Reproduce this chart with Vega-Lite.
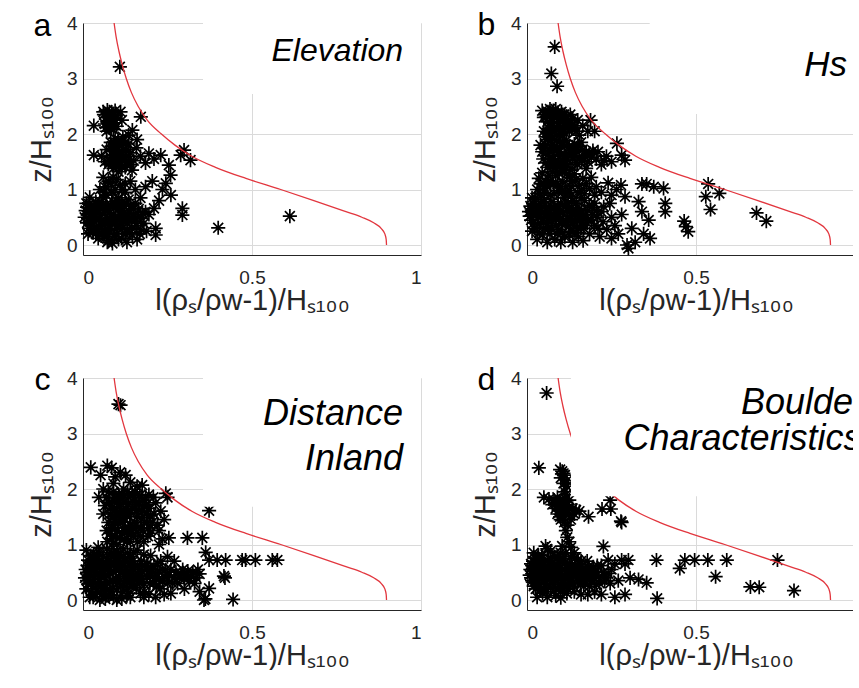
{
  "$schema": "https://vega.github.io/schema/vega-lite/v6.json",
  "background": "white",
  "padding": {"left": 27, "top": 9, "right": 0, "bottom": 0},
  "config": {
    "view": {"stroke": null},
    "font": "Liberation Sans",
    "axis": {
      "domainColor": "#262626", "domainWidth": 1,
      "gridColor": "#dadada", "gridWidth": 1,
      "ticks": false,
      "labelColor": "#262626", "labelFont": "Liberation Sans", "labelFontSize": 19,
      "titleColor": "#262626", "titleFont": "Liberation Sans", "titleFontSize": 29, "titleFontWeight": "normal"
    },
    "axisX": {"labelPadding": 13, "titlePadding": -1},
    "axisY": {"labelPadding": 6, "titlePadding": 10}
  },
  "datasets": {
    "pts": [
      {"p":"a","x":0.109,"y":3.21},{"p":"a","x":0.400,"y":0.31},{"p":"a","x":0.612,"y":0.52},
      {"p":"a","x":0.060,"y":2.40},{"p":"a","x":0.072,"y":2.43},{"p":"a","x":0.085,"y":2.38},{"p":"a","x":0.097,"y":2.33},{"p":"a","x":0.111,"y":2.40},{"p":"a","x":0.068,"y":2.30},{"p":"a","x":0.080,"y":2.25},{"p":"a","x":0.092,"y":2.20},{"p":"a","x":0.065,"y":2.18},{"p":"a","x":0.078,"y":2.12},{"p":"a","x":0.090,"y":2.08},{"p":"a","x":0.100,"y":2.14},{"p":"a","x":0.070,"y":2.05},{"p":"a","x":0.032,"y":2.15},{"p":"a","x":0.171,"y":2.31},{"p":"a","x":0.146,"y":2.07},{"p":"a","x":0.135,"y":1.98},{"p":"a","x":0.115,"y":2.25},
      {"p":"a","x":0.075,"y":2.35},{"p":"a","x":0.088,"y":2.28},{"p":"a","x":0.082,"y":2.18},{"p":"a","x":0.095,"y":2.42},{"p":"a","x":0.068,"y":2.12},{"p":"a","x":0.062,"y":2.35},
      {"p":"a","x":0.078,"y":2.40},{"p":"a","x":0.086,"y":2.32},{"p":"a","x":0.072,"y":2.22},{"p":"a","x":0.094,"y":2.26},{"p":"a","x":0.084,"y":2.10},
      {"p":"a","x":0.032,"y":1.62},{"p":"a","x":0.055,"y":1.60},{"p":"a","x":0.070,"y":1.72},{"p":"a","x":0.082,"y":1.85},{"p":"a","x":0.095,"y":1.92},{"p":"a","x":0.108,"y":1.80},{"p":"a","x":0.120,"y":1.70},{"p":"a","x":0.088,"y":1.62},{"p":"a","x":0.100,"y":1.55},{"p":"a","x":0.112,"y":1.48},{"p":"a","x":0.125,"y":1.58},{"p":"a","x":0.135,"y":1.82},{"p":"a","x":0.140,"y":1.66},{"p":"a","x":0.150,"y":1.52},{"p":"a","x":0.158,"y":1.75},{"p":"a","x":0.170,"y":1.60},{"p":"a","x":0.185,"y":1.48},{"p":"a","x":0.195,"y":1.65},{"p":"a","x":0.230,"y":1.62},{"p":"a","x":0.210,"y":1.55},{"p":"a","x":0.075,"y":1.45},{"p":"a","x":0.090,"y":1.38},{"p":"a","x":0.105,"y":1.32},{"p":"a","x":0.125,"y":1.40},{"p":"a","x":0.145,"y":1.35},{"p":"a","x":0.160,"y":1.90},{"p":"a","x":0.118,"y":1.95},
      {"p":"a","x":0.080,"y":1.50},{"p":"a","x":0.095,"y":1.70},{"p":"a","x":0.105,"y":1.62},{"p":"a","x":0.115,"y":1.85},{"p":"a","x":0.128,"y":1.72},{"p":"a","x":0.100,"y":1.42},{"p":"a","x":0.085,"y":1.78},{"p":"a","x":0.130,"y":1.50},{"p":"a","x":0.110,"y":1.55},{"p":"a","x":0.092,"y":1.85},{"p":"a","x":0.140,"y":1.45},{"p":"a","x":0.065,"y":1.50},
      {"p":"a","x":0.088,"y":1.70},{"p":"a","x":0.098,"y":1.78},{"p":"a","x":0.108,"y":1.68},{"p":"a","x":0.118,"y":1.60},{"p":"a","x":0.095,"y":1.48},{"p":"a","x":0.105,"y":1.88},{"p":"a","x":0.125,"y":1.85},{"p":"a","x":0.115,"y":1.40},{"p":"a","x":0.135,"y":1.60},{"p":"a","x":0.082,"y":1.58},
      {"p":"a","x":0.289,"y":1.62},{"p":"a","x":0.299,"y":1.71},{"p":"a","x":0.318,"y":1.53},{"p":"a","x":0.254,"y":1.44},{"p":"a","x":0.259,"y":1.26},{"p":"a","x":0.245,"y":1.11},{"p":"a","x":0.235,"y":1.00},{"p":"a","x":0.260,"y":0.90},{"p":"a","x":0.294,"y":0.66},{"p":"a","x":0.294,"y":0.54},{"p":"a","x":0.210,"y":0.66},{"p":"a","x":0.225,"y":0.80},{"p":"a","x":0.205,"y":1.15},
      {"p":"a","x":0.050,"y":1.00},{"p":"a","x":0.065,"y":1.05},{"p":"a","x":0.080,"y":1.12},{"p":"a","x":0.095,"y":1.00},{"p":"a","x":0.110,"y":1.08},{"p":"a","x":0.125,"y":0.95},{"p":"a","x":0.140,"y":1.15},{"p":"a","x":0.155,"y":1.00},{"p":"a","x":0.170,"y":0.85},{"p":"a","x":0.185,"y":1.05},{"p":"a","x":0.070,"y":0.90},{"p":"a","x":0.105,"y":0.85},{"p":"a","x":0.135,"y":0.82},{"p":"a","x":0.090,"y":1.22},{"p":"a","x":0.060,"y":1.22},
      {"p":"a","x":0.062,"y":0.95},{"p":"a","x":0.085,"y":0.95},{"p":"a","x":0.115,"y":1.00},{"p":"a","x":0.075,"y":1.15},{"p":"a","x":0.100,"y":1.18},{"p":"a","x":0.125,"y":1.10},
      {"p":"a","x":0.008,"y":0.62},{"p":"a","x":0.015,"y":0.48},{"p":"a","x":0.018,"y":0.74},{"p":"a","x":0.025,"y":0.36},{"p":"a","x":0.028,"y":0.58},{"p":"a","x":0.035,"y":0.68},{"p":"a","x":0.040,"y":0.45},{"p":"a","x":0.042,"y":0.25},{"p":"a","x":0.050,"y":0.78},{"p":"a","x":0.052,"y":0.55},{"p":"a","x":0.058,"y":0.35},{"p":"a","x":0.062,"y":0.15},{"p":"a","x":0.066,"y":0.62},{"p":"a","x":0.072,"y":0.48},{"p":"a","x":0.076,"y":0.28},{"p":"a","x":0.082,"y":0.72},{"p":"a","x":0.087,"y":0.03},{"p":"a","x":0.090,"y":0.55},{"p":"a","x":0.094,"y":0.38},{"p":"a","x":0.098,"y":0.20},{"p":"a","x":0.104,"y":0.65},{"p":"a","x":0.108,"y":0.45},{"p":"a","x":0.114,"y":0.12},{"p":"a","x":0.118,"y":0.30},{"p":"a","x":0.122,"y":0.58},{"p":"a","x":0.128,"y":0.75},{"p":"a","x":0.132,"y":0.40},{"p":"a","x":0.138,"y":0.22},{"p":"a","x":0.146,"y":0.18},{"p":"a","x":0.150,"y":0.55},{"p":"a","x":0.158,"y":0.35},{"p":"a","x":0.165,"y":0.65},{"p":"a","x":0.172,"y":0.48},{"p":"a","x":0.180,"y":0.39},{"p":"a","x":0.188,"y":0.25},{"p":"a","x":0.195,"y":0.55},{"p":"a","x":0.215,"y":0.30},{"p":"a","x":0.215,"y":0.18},{"p":"a","x":0.045,"y":0.12},{"p":"a","x":0.030,"y":0.22},{"p":"a","x":0.012,"y":0.40},{"p":"a","x":0.020,"y":0.86},{"p":"a","x":0.075,"y":0.08},{"p":"a","x":0.130,"y":0.05},{"p":"a","x":0.160,"y":0.10},{"p":"a","x":0.100,"y":0.80},{"p":"a","x":0.060,"y":0.85},
      {"p":"a","x":0.015,"y":0.20},{"p":"a","x":0.022,"y":0.55},{"p":"a","x":0.035,"y":0.30},{"p":"a","x":0.038,"y":0.78},{"p":"a","x":0.048,"y":0.62},{"p":"a","x":0.055,"y":0.42},{"p":"a","x":0.065,"y":0.25},{"p":"a","x":0.068,"y":0.72},{"p":"a","x":0.078,"y":0.58},{"p":"a","x":0.085,"y":0.40},{"p":"a","x":0.092,"y":0.15},{"p":"a","x":0.095,"y":0.68},{"p":"a","x":0.102,"y":0.30},{"p":"a","x":0.110,"y":0.55},{"p":"a","x":0.115,"y":0.75},{"p":"a","x":0.120,"y":0.45},{"p":"a","x":0.125,"y":0.20},{"p":"a","x":0.135,"y":0.62},{"p":"a","x":0.142,"y":0.50},{"p":"a","x":0.155,"y":0.75},{"p":"a","x":0.010,"y":0.75},{"p":"a","x":0.018,"y":0.30},{"p":"a","x":0.045,"y":0.35},{"p":"a","x":0.072,"y":0.05},{"p":"a","x":0.105,"y":0.10},{"p":"a","x":0.140,"y":0.70},{"p":"a","x":0.170,"y":0.28},{"p":"a","x":0.185,"y":0.60},
      {"p":"a","x":0.005,"y":0.50},{"p":"a","x":0.012,"y":0.68},{"p":"a","x":0.020,"y":0.42},{"p":"a","x":0.026,"y":0.66},{"p":"a","x":0.032,"y":0.50},{"p":"a","x":0.038,"y":0.20},{"p":"a","x":0.044,"y":0.70},{"p":"a","x":0.050,"y":0.48},{"p":"a","x":0.056,"y":0.22},{"p":"a","x":0.060,"y":0.68},{"p":"a","x":0.066,"y":0.42},{"p":"a","x":0.070,"y":0.18},{"p":"a","x":0.074,"y":0.66},{"p":"a","x":0.080,"y":0.30},{"p":"a","x":0.084,"y":0.50},{"p":"a","x":0.088,"y":0.78},{"p":"a","x":0.096,"y":0.50},{"p":"a","x":0.100,"y":0.35},{"p":"a","x":0.106,"y":0.72},{"p":"a","x":0.112,"y":0.38},{"p":"a","x":0.116,"y":0.62},{"p":"a","x":0.124,"y":0.50},{"p":"a","x":0.130,"y":0.28},{"p":"a","x":0.136,"y":0.48},{"p":"a","x":0.144,"y":0.30},{"p":"a","x":0.148,"y":0.65},{"p":"a","x":0.152,"y":0.42},{"p":"a","x":0.162,"y":0.50},{"p":"a","x":0.168,"y":0.20},{"p":"a","x":0.176,"y":0.58},{"p":"a","x":0.040,"y":0.58},{"p":"a","x":0.022,"y":0.62},{"p":"a","x":0.058,"y":0.72},{"p":"a","x":0.092,"y":0.45},{"p":"a","x":0.120,"y":0.70},

      {"p":"b","x":0.082,"y":3.57},{"p":"b","x":0.072,"y":3.09},{"p":"b","x":0.089,"y":2.86},{"p":"b","x":0.188,"y":2.25},{"p":"b","x":0.266,"y":1.83},{"p":"b","x":0.290,"y":1.53},
      {"p":"b","x":0.045,"y":2.42},{"p":"b","x":0.055,"y":2.35},{"p":"b","x":0.068,"y":2.45},{"p":"b","x":0.080,"y":2.30},{"p":"b","x":0.092,"y":2.38},{"p":"b","x":0.105,"y":2.25},{"p":"b","x":0.118,"y":2.32},{"p":"b","x":0.130,"y":2.20},{"p":"b","x":0.060,"y":2.22},{"p":"b","x":0.075,"y":2.15},{"p":"b","x":0.088,"y":2.08},{"p":"b","x":0.100,"y":2.12},{"p":"b","x":0.112,"y":2.02},{"p":"b","x":0.125,"y":2.08},{"p":"b","x":0.140,"y":2.12},{"p":"b","x":0.150,"y":2.25},{"p":"b","x":0.165,"y":2.15},{"p":"b","x":0.180,"y":2.05},{"p":"b","x":0.155,"y":1.98},{"p":"b","x":0.070,"y":2.00},{"p":"b","x":0.050,"y":2.05},{"p":"b","x":0.200,"y":2.05},
      {"p":"b","x":0.050,"y":2.30},{"p":"b","x":0.062,"y":2.40},{"p":"b","x":0.072,"y":2.28},{"p":"b","x":0.085,"y":2.45},{"p":"b","x":0.098,"y":2.22},{"p":"b","x":0.110,"y":2.35},{"p":"b","x":0.122,"y":2.15},{"p":"b","x":0.135,"y":2.28},{"p":"b","x":0.145,"y":2.05},{"p":"b","x":0.082,"y":2.05},{"p":"b","x":0.095,"y":1.98},{"p":"b","x":0.065,"y":2.10},
      {"p":"b","x":0.058,"y":2.32},{"p":"b","x":0.070,"y":2.38},{"p":"b","x":0.078,"y":2.42},{"p":"b","x":0.090,"y":2.30},{"p":"b","x":0.102,"y":2.40},{"p":"b","x":0.115,"y":2.28},{"p":"b","x":0.128,"y":2.35},{"p":"b","x":0.068,"y":2.20},{"p":"b","x":0.080,"y":2.12},{"p":"b","x":0.092,"y":2.15},{"p":"b","x":0.108,"y":2.08},{"p":"b","x":0.118,"y":2.20},{"p":"b","x":0.132,"y":2.10},{"p":"b","x":0.060,"y":2.02},{"p":"b","x":0.100,"y":2.00},
      {"p":"b","x":0.040,"y":1.80},{"p":"b","x":0.048,"y":1.55},{"p":"b","x":0.060,"y":1.90},{"p":"b","x":0.065,"y":1.70},{"p":"b","x":0.075,"y":1.82},{"p":"b","x":0.080,"y":1.60},{"p":"b","x":0.090,"y":1.75},{"p":"b","x":0.095,"y":1.50},{"p":"b","x":0.105,"y":1.85},{"p":"b","x":0.110,"y":1.65},{"p":"b","x":0.120,"y":1.45},{"p":"b","x":0.125,"y":1.78},{"p":"b","x":0.135,"y":1.58},{"p":"b","x":0.145,"y":1.70},{"p":"b","x":0.150,"y":1.45},{"p":"b","x":0.160,"y":1.85},{"p":"b","x":0.170,"y":1.60},{"p":"b","x":0.180,"y":1.50},{"p":"b","x":0.195,"y":1.70},{"p":"b","x":0.205,"y":1.55},{"p":"b","x":0.220,"y":1.45},{"p":"b","x":0.235,"y":1.60},{"p":"b","x":0.250,"y":1.50},{"p":"b","x":0.280,"y":1.62},{"p":"b","x":0.060,"y":1.40},{"p":"b","x":0.085,"y":1.38},{"p":"b","x":0.130,"y":1.35},{"p":"b","x":0.175,"y":1.38},
      {"p":"b","x":0.045,"y":1.68},{"p":"b","x":0.055,"y":1.80},{"p":"b","x":0.068,"y":1.55},{"p":"b","x":0.078,"y":1.72},{"p":"b","x":0.088,"y":1.88},{"p":"b","x":0.100,"y":1.62},{"p":"b","x":0.112,"y":1.78},{"p":"b","x":0.118,"y":1.55},{"p":"b","x":0.130,"y":1.70},{"p":"b","x":0.140,"y":1.82},{"p":"b","x":0.155,"y":1.58},{"p":"b","x":0.165,"y":1.72},{"p":"b","x":0.185,"y":1.65},{"p":"b","x":0.100,"y":1.45},{"p":"b","x":0.145,"y":1.48},{"p":"b","x":0.075,"y":1.45},{"p":"b","x":0.210,"y":1.68},{"p":"b","x":0.228,"y":1.52},{"p":"b","x":0.055,"y":1.95},
      {"p":"b","x":0.050,"y":1.75},{"p":"b","x":0.062,"y":1.62},{"p":"b","x":0.072,"y":1.88},{"p":"b","x":0.084,"y":1.52},{"p":"b","x":0.092,"y":1.66},{"p":"b","x":0.102,"y":1.78},{"p":"b","x":0.108,"y":1.52},{"p":"b","x":0.116,"y":1.88},{"p":"b","x":0.124,"y":1.65},{"p":"b","x":0.136,"y":1.75},{"p":"b","x":0.142,"y":1.60},{"p":"b","x":0.152,"y":1.78},{"p":"b","x":0.162,"y":1.52},{"p":"b","x":0.175,"y":1.68},{"p":"b","x":0.190,"y":1.58},{"p":"b","x":0.070,"y":1.48},{"p":"b","x":0.090,"y":1.42},{"p":"b","x":0.115,"y":1.40},{"p":"b","x":0.055,"y":1.48},
      {"p":"b","x":0.035,"y":1.20},{"p":"b","x":0.050,"y":1.05},{"p":"b","x":0.065,"y":1.25},{"p":"b","x":0.078,"y":1.10},{"p":"b","x":0.092,"y":0.98},{"p":"b","x":0.105,"y":1.15},{"p":"b","x":0.118,"y":1.28},{"p":"b","x":0.130,"y":1.05},{"p":"b","x":0.145,"y":1.18},{"p":"b","x":0.160,"y":0.98},{"p":"b","x":0.175,"y":1.10},{"p":"b","x":0.190,"y":1.22},{"p":"b","x":0.205,"y":1.05},{"p":"b","x":0.220,"y":0.95},{"p":"b","x":0.240,"y":1.12},{"p":"b","x":0.070,"y":0.90},{"p":"b","x":0.115,"y":0.92},{"p":"b","x":0.040,"y":0.92},
      {"p":"b","x":0.006,"y":0.60},{"p":"b","x":0.012,"y":0.45},{"p":"b","x":0.018,"y":0.75},{"p":"b","x":0.022,"y":0.30},{"p":"b","x":0.028,"y":0.55},{"p":"b","x":0.034,"y":0.68},{"p":"b","x":0.040,"y":0.40},{"p":"b","x":0.046,"y":0.18},{"p":"b","x":0.052,"y":0.82},{"p":"b","x":0.058,"y":0.52},{"p":"b","x":0.064,"y":0.32},{"p":"b","x":0.070,"y":0.65},{"p":"b","x":0.076,"y":0.45},{"p":"b","x":0.082,"y":0.10},{"p":"b","x":0.088,"y":0.58},{"p":"b","x":0.094,"y":0.28},{"p":"b","x":0.100,"y":0.75},{"p":"b","x":0.106,"y":0.42},{"p":"b","x":0.112,"y":0.15},{"p":"b","x":0.118,"y":0.62},{"p":"b","x":0.124,"y":0.35},{"p":"b","x":0.130,"y":0.52},{"p":"b","x":0.136,"y":0.80},{"p":"b","x":0.142,"y":0.22},{"p":"b","x":0.148,"y":0.45},{"p":"b","x":0.154,"y":0.65},{"p":"b","x":0.160,"y":0.30},{"p":"b","x":0.166,"y":0.08},{"p":"b","x":0.172,"y":0.55},{"p":"b","x":0.178,"y":0.40},{"p":"b","x":0.185,"y":0.20},{"p":"b","x":0.192,"y":0.68},{"p":"b","x":0.200,"y":0.35},{"p":"b","x":0.208,"y":0.50},{"p":"b","x":0.215,"y":0.15},{"p":"b","x":0.225,"y":0.42},{"p":"b","x":0.236,"y":0.28},{"p":"b","x":0.030,"y":0.10},{"p":"b","x":0.060,"y":0.05},{"p":"b","x":0.100,"y":0.05},{"p":"b","x":0.135,"y":0.05},{"p":"b","x":0.015,"y":0.85},
      {"p":"b","x":0.010,"y":0.70},{"p":"b","x":0.015,"y":0.25},{"p":"b","x":0.020,"y":0.55},{"p":"b","x":0.025,"y":0.85},{"p":"b","x":0.032,"y":0.38},{"p":"b","x":0.038,"y":0.60},{"p":"b","x":0.044,"y":0.78},{"p":"b","x":0.050,"y":0.30},{"p":"b","x":0.056,"y":0.65},{"p":"b","x":0.062,"y":0.45},{"p":"b","x":0.068,"y":0.20},{"p":"b","x":0.074,"y":0.78},{"p":"b","x":0.080,"y":0.55},{"p":"b","x":0.086,"y":0.35},{"p":"b","x":0.092,"y":0.70},{"p":"b","x":0.098,"y":0.48},{"p":"b","x":0.104,"y":0.22},{"p":"b","x":0.110,"y":0.85},{"p":"b","x":0.116,"y":0.40},{"p":"b","x":0.122,"y":0.75},{"p":"b","x":0.128,"y":0.25},{"p":"b","x":0.134,"y":0.60},{"p":"b","x":0.140,"y":0.42},{"p":"b","x":0.146,"y":0.75},{"p":"b","x":0.152,"y":0.15},{"p":"b","x":0.158,"y":0.55},{"p":"b","x":0.164,"y":0.40},{"p":"b","x":0.170,"y":0.80},{"p":"b","x":0.180,"y":0.62},{"p":"b","x":0.190,"y":0.45},{"p":"b","x":0.200,"y":0.75},{"p":"b","x":0.210,"y":0.30},{"p":"b","x":0.220,"y":0.60},{"p":"b","x":0.030,"y":1.00},{"p":"b","x":0.055,"y":1.15},{"p":"b","x":0.085,"y":1.25},{"p":"b","x":0.100,"y":1.05},{"p":"b","x":0.125,"y":0.98},{"p":"b","x":0.140,"y":1.28},{"p":"b","x":0.155,"y":1.08},{"p":"b","x":0.170,"y":0.92},{"p":"b","x":0.185,"y":1.02},{"p":"b","x":0.200,"y":0.90},{"p":"b","x":0.060,"y":1.05},{"p":"b","x":0.045,"y":1.30},{"p":"b","x":0.110,"y":1.35},{"p":"b","x":0.250,"y":0.90},{"p":"b","x":0.265,"y":1.00},{"p":"b","x":0.250,"y":0.50},{"p":"b","x":0.270,"y":0.20},{"p":"b","x":0.245,"y":0.75},
      {"p":"b","x":0.008,"y":0.52},{"p":"b","x":0.014,"y":0.65},{"p":"b","x":0.020,"y":0.40},{"p":"b","x":0.026,"y":0.70},{"p":"b","x":0.032,"y":0.50},{"p":"b","x":0.036,"y":0.22},{"p":"b","x":0.042,"y":0.62},{"p":"b","x":0.048,"y":0.48},{"p":"b","x":0.054,"y":0.72},{"p":"b","x":0.060,"y":0.38},{"p":"b","x":0.066,"y":0.58},{"p":"b","x":0.072,"y":0.28},{"p":"b","x":0.078,"y":0.68},{"p":"b","x":0.084,"y":0.48},{"p":"b","x":0.090,"y":0.20},{"p":"b","x":0.096,"y":0.62},{"p":"b","x":0.102,"y":0.38},{"p":"b","x":0.108,"y":0.58},{"p":"b","x":0.114,"y":0.70},{"p":"b","x":0.120,"y":0.48},{"p":"b","x":0.126,"y":0.18},{"p":"b","x":0.132,"y":0.68},{"p":"b","x":0.138,"y":0.35},{"p":"b","x":0.144,"y":0.58},{"p":"b","x":0.150,"y":0.30},{"p":"b","x":0.156,"y":0.48},{"p":"b","x":0.162,"y":0.62},{"p":"b","x":0.168,"y":0.30},{"p":"b","x":0.176,"y":0.48},{"p":"b","x":0.184,"y":0.72},{"p":"b","x":0.195,"y":0.55},{"p":"b","x":0.205,"y":0.62},{"p":"b","x":0.040,"y":1.10},{"p":"b","x":0.070,"y":1.15},{"p":"b","x":0.090,"y":1.10},{"p":"b","x":0.115,"y":1.05},{"p":"b","x":0.135,"y":1.15},{"p":"b","x":0.150,"y":0.95},{"p":"b","x":0.165,"y":1.20},{"p":"b","x":0.050,"y":0.95},{"p":"b","x":0.080,"y":0.92},{"p":"b","x":0.105,"y":0.95},{"p":"b","x":0.130,"y":0.88},{"p":"b","x":0.160,"y":0.85},{"p":"b","x":0.095,"y":1.30},{"p":"b","x":0.075,"y":1.32},{"p":"b","x":0.125,"y":1.22},
      {"p":"b","x":0.278,"y":1.08},{"p":"b","x":0.290,"y":0.87},{"p":"b","x":0.340,"y":1.10},{"p":"b","x":0.354,"y":1.10},{"p":"b","x":0.375,"y":1.05},{"p":"b","x":0.404,"y":1.02},{"p":"b","x":0.409,"y":0.75},{"p":"b","x":0.409,"y":0.60},{"p":"b","x":0.340,"y":0.60},{"p":"b","x":0.330,"y":0.78},{"p":"b","x":0.360,"y":0.45},{"p":"b","x":0.364,"y":0.12},{"p":"b","x":0.296,"y":0.00},{"p":"b","x":0.300,"y":-0.06},{"p":"b","x":0.320,"y":0.05},{"p":"b","x":0.345,"y":0.20},{"p":"b","x":0.260,"y":0.35},{"p":"b","x":0.280,"y":0.55},{"p":"b","x":0.310,"y":0.30},{"p":"b","x":0.250,"y":0.12},{"p":"b","x":0.227,"y":0.69},
      {"p":"b","x":0.465,"y":0.43},{"p":"b","x":0.477,"y":0.24},{"p":"b","x":0.470,"y":0.33},{"p":"b","x":0.536,"y":1.10},{"p":"b","x":0.569,"y":0.93},{"p":"b","x":0.529,"y":0.87},{"p":"b","x":0.543,"y":0.64},{"p":"b","x":0.679,"y":0.58},{"p":"b","x":0.708,"y":0.43},

      {"p":"c","x":0.111,"y":3.51},{"p":"c","x":0.105,"y":3.53},{"p":"c","x":0.023,"y":2.39},{"p":"c","x":0.072,"y":2.42},{"p":"c","x":0.085,"y":2.38},{"p":"c","x":0.052,"y":2.25},{"p":"c","x":0.095,"y":2.22},{"p":"c","x":0.110,"y":2.30},{"p":"c","x":0.126,"y":2.25},{"p":"c","x":0.140,"y":2.12},{"p":"c","x":0.160,"y":2.05},{"p":"c","x":0.175,"y":2.07},{"p":"c","x":0.047,"y":1.85},{"p":"c","x":0.250,"y":1.85},{"p":"c","x":0.245,"y":1.92},{"p":"c","x":0.373,"y":1.61},
      {"p":"c","x":0.065,"y":1.70},{"p":"c","x":0.075,"y":1.95},{"p":"c","x":0.080,"y":1.55},{"p":"c","x":0.088,"y":1.80},{"p":"c","x":0.092,"y":1.35},{"p":"c","x":0.098,"y":1.65},{"p":"c","x":0.105,"y":1.90},{"p":"c","x":0.110,"y":1.45},{"p":"c","x":0.115,"y":1.20},{"p":"c","x":0.120,"y":1.75},{"p":"c","x":0.125,"y":1.55},{"p":"c","x":0.130,"y":1.05},{"p":"c","x":0.135,"y":1.85},{"p":"c","x":0.140,"y":1.35},{"p":"c","x":0.145,"y":1.65},{"p":"c","x":0.150,"y":1.15},{"p":"c","x":0.155,"y":1.95},{"p":"c","x":0.160,"y":1.50},{"p":"c","x":0.165,"y":1.75},{"p":"c","x":0.170,"y":1.30},{"p":"c","x":0.175,"y":1.60},{"p":"c","x":0.180,"y":1.05},{"p":"c","x":0.185,"y":1.85},{"p":"c","x":0.190,"y":1.40},{"p":"c","x":0.195,"y":1.65},{"p":"c","x":0.200,"y":1.20},{"p":"c","x":0.210,"y":1.55},{"p":"c","x":0.215,"y":1.75},{"p":"c","x":0.220,"y":1.35},{"p":"c","x":0.230,"y":1.60},{"p":"c","x":0.240,"y":1.45},{"p":"c","x":0.235,"y":1.10},{"p":"c","x":0.070,"y":1.25},{"p":"c","x":0.085,"y":1.10},{"p":"c","x":0.100,"y":1.00},{"p":"c","x":0.075,"y":1.40},{"p":"c","x":0.060,"y":1.55},{"p":"c","x":0.125,"y":1.30},{"p":"c","x":0.145,"y":1.90},{"p":"c","x":0.195,"y":1.90},{"p":"c","x":0.100,"y":1.75},{"p":"c","x":0.115,"y":1.60},
      {"p":"c","x":0.070,"y":1.85},{"p":"c","x":0.082,"y":1.65},{"p":"c","x":0.090,"y":1.95},{"p":"c","x":0.095,"y":1.45},{"p":"c","x":0.102,"y":1.25},{"p":"c","x":0.108,"y":1.68},{"p":"c","x":0.112,"y":1.82},{"p":"c","x":0.118,"y":1.40},{"p":"c","x":0.122,"y":1.10},{"p":"c","x":0.128,"y":1.65},{"p":"c","x":0.132,"y":1.95},{"p":"c","x":0.138,"y":1.50},{"p":"c","x":0.142,"y":1.20},{"p":"c","x":0.148,"y":1.78},{"p":"c","x":0.152,"y":1.40},{"p":"c","x":0.158,"y":1.62},{"p":"c","x":0.162,"y":1.05},{"p":"c","x":0.168,"y":1.88},{"p":"c","x":0.172,"y":1.48},{"p":"c","x":0.178,"y":1.25},{"p":"c","x":0.182,"y":1.70},{"p":"c","x":0.188,"y":1.55},{"p":"c","x":0.192,"y":1.15},{"p":"c","x":0.205,"y":1.40},{"p":"c","x":0.208,"y":1.85},{"p":"c","x":0.225,"y":1.25},{"p":"c","x":0.085,"y":1.30},{"p":"c","x":0.072,"y":1.05},{"p":"c","x":0.095,"y":1.15},{"p":"c","x":0.135,"y":1.20},{"p":"c","x":0.060,"y":2.00},{"p":"c","x":0.090,"y":2.10},{"p":"c","x":0.120,"y":2.00},
      {"p":"c","x":0.078,"y":1.75},{"p":"c","x":0.086,"y":1.50},{"p":"c","x":0.092,"y":1.62},{"p":"c","x":0.098,"y":1.85},{"p":"c","x":0.104,"y":1.38},{"p":"c","x":0.110,"y":1.58},{"p":"c","x":0.116,"y":1.92},{"p":"c","x":0.122,"y":1.48},{"p":"c","x":0.128,"y":1.22},{"p":"c","x":0.134,"y":1.72},{"p":"c","x":0.140,"y":1.58},{"p":"c","x":0.146,"y":1.30},{"p":"c","x":0.152,"y":1.85},{"p":"c","x":0.158,"y":1.35},{"p":"c","x":0.164,"y":1.62},{"p":"c","x":0.170,"y":1.15},{"p":"c","x":0.176,"y":1.80},{"p":"c","x":0.182,"y":1.40},{"p":"c","x":0.188,"y":1.72},{"p":"c","x":0.195,"y":1.30},{"p":"c","x":0.108,"y":1.12},{"p":"c","x":0.140,"y":1.05},{"p":"c","x":0.080,"y":1.20},{"p":"c","x":0.090,"y":1.02},{"p":"c","x":0.200,"y":1.52},{"p":"c","x":0.160,"y":1.22},{"p":"c","x":0.120,"y":1.85},{"p":"c","x":0.100,"y":1.55},
      {"p":"c","x":0.254,"y":1.12},{"p":"c","x":0.309,"y":1.12},{"p":"c","x":0.353,"y":1.12},{"p":"c","x":0.225,"y":1.00},{"p":"c","x":0.363,"y":0.86},{"p":"c","x":0.373,"y":0.72},{"p":"c","x":0.397,"y":0.72},{"p":"c","x":0.422,"y":0.72},{"p":"c","x":0.471,"y":0.72},{"p":"c","x":0.481,"y":0.72},{"p":"c","x":0.510,"y":0.72},{"p":"c","x":0.560,"y":0.72},{"p":"c","x":0.575,"y":0.72},{"p":"c","x":0.417,"y":0.43},{"p":"c","x":0.420,"y":0.40},{"p":"c","x":0.444,"y":0.01},{"p":"c","x":0.358,"y":0.00},{"p":"c","x":0.362,"y":0.02},{"p":"c","x":0.373,"y":0.21},{"p":"c","x":0.345,"y":0.15},{"p":"c","x":0.250,"y":0.78},{"p":"c","x":0.270,"y":0.70},
      {"p":"c","x":0.008,"y":0.55},{"p":"c","x":0.012,"y":0.35},{"p":"c","x":0.015,"y":0.72},{"p":"c","x":0.020,"y":0.45},{"p":"c","x":0.025,"y":0.62},{"p":"c","x":0.028,"y":0.25},{"p":"c","x":0.032,"y":0.82},{"p":"c","x":0.036,"y":0.50},{"p":"c","x":0.040,"y":0.15},{"p":"c","x":0.045,"y":0.68},{"p":"c","x":0.050,"y":0.38},{"p":"c","x":0.055,"y":0.55},{"p":"c","x":0.060,"y":0.78},{"p":"c","x":0.064,"y":0.22},{"p":"c","x":0.068,"y":0.45},{"p":"c","x":0.072,"y":0.62},{"p":"c","x":0.076,"y":0.08},{"p":"c","x":0.080,"y":0.32},{"p":"c","x":0.085,"y":0.85},{"p":"c","x":0.090,"y":0.52},{"p":"c","x":0.095,"y":0.70},{"p":"c","x":0.100,"y":0.18},{"p":"c","x":0.105,"y":0.42},{"p":"c","x":0.110,"y":0.60},{"p":"c","x":0.115,"y":0.02},{"p":"c","x":0.120,"y":0.30},{"p":"c","x":0.125,"y":0.75},{"p":"c","x":0.130,"y":0.48},{"p":"c","x":0.135,"y":0.12},{"p":"c","x":0.140,"y":0.62},{"p":"c","x":0.145,"y":0.35},{"p":"c","x":0.150,"y":0.55},{"p":"c","x":0.158,"y":0.22},{"p":"c","x":0.165,"y":0.45},{"p":"c","x":0.172,"y":0.70},{"p":"c","x":0.180,"y":0.30},{"p":"c","x":0.188,"y":0.55},{"p":"c","x":0.195,"y":0.10},{"p":"c","x":0.200,"y":0.42},{"p":"c","x":0.210,"y":0.60},{"p":"c","x":0.218,"y":0.25},{"p":"c","x":0.225,"y":0.50},{"p":"c","x":0.235,"y":0.35},{"p":"c","x":0.245,"y":0.55},{"p":"c","x":0.255,"y":0.45},{"p":"c","x":0.265,"y":0.30},{"p":"c","x":0.275,"y":0.50},{"p":"c","x":0.285,"y":0.40},{"p":"c","x":0.295,"y":0.55},{"p":"c","x":0.305,"y":0.45},{"p":"c","x":0.315,"y":0.35},{"p":"c","x":0.325,"y":0.50},{"p":"c","x":0.335,"y":0.40},{"p":"c","x":0.345,"y":0.47},{"p":"c","x":0.030,"y":0.05},{"p":"c","x":0.055,"y":0.10},{"p":"c","x":0.090,"y":0.05},{"p":"c","x":0.140,"y":0.05},{"p":"c","x":0.170,"y":0.12},{"p":"c","x":0.010,"y":0.90},{"p":"c","x":0.045,"y":0.95},{"p":"c","x":0.070,"y":0.92},{"p":"c","x":0.100,"y":0.88},{"p":"c","x":0.150,"y":0.85},{"p":"c","x":0.200,"y":0.80},{"p":"c","x":0.215,"y":0.05},{"p":"c","x":0.260,"y":0.12},{"p":"c","x":0.230,"y":0.70},
      {"p":"c","x":0.010,"y":0.20},{"p":"c","x":0.014,"y":0.62},{"p":"c","x":0.018,"y":0.40},{"p":"c","x":0.022,"y":0.80},{"p":"c","x":0.026,"y":0.52},{"p":"c","x":0.030,"y":0.32},{"p":"c","x":0.034,"y":0.70},{"p":"c","x":0.038,"y":0.10},{"p":"c","x":0.042,"y":0.45},{"p":"c","x":0.048,"y":0.85},{"p":"c","x":0.052,"y":0.25},{"p":"c","x":0.058,"y":0.65},{"p":"c","x":0.062,"y":0.40},{"p":"c","x":0.066,"y":0.02},{"p":"c","x":0.070,"y":0.75},{"p":"c","x":0.074,"y":0.55},{"p":"c","x":0.078,"y":0.20},{"p":"c","x":0.082,"y":0.65},{"p":"c","x":0.088,"y":0.35},{"p":"c","x":0.092,"y":0.80},{"p":"c","x":0.098,"y":0.60},{"p":"c","x":0.102,"y":0.30},{"p":"c","x":0.108,"y":0.75},{"p":"c","x":0.112,"y":0.50},{"p":"c","x":0.118,"y":0.15},{"p":"c","x":0.122,"y":0.62},{"p":"c","x":0.128,"y":0.35},{"p":"c","x":0.132,"y":0.85},{"p":"c","x":0.138,"y":0.42},{"p":"c","x":0.142,"y":0.25},{"p":"c","x":0.148,"y":0.70},{"p":"c","x":0.155,"y":0.45},{"p":"c","x":0.162,"y":0.60},{"p":"c","x":0.168,"y":0.30},{"p":"c","x":0.175,"y":0.52},{"p":"c","x":0.182,"y":0.15},{"p":"c","x":0.190,"y":0.65},{"p":"c","x":0.198,"y":0.30},{"p":"c","x":0.205,"y":0.55},{"p":"c","x":0.212,"y":0.40},{"p":"c","x":0.220,"y":0.65},{"p":"c","x":0.228,"y":0.20},{"p":"c","x":0.240,"y":0.42},{"p":"c","x":0.250,"y":0.30},{"p":"c","x":0.260,"y":0.55},{"p":"c","x":0.270,"y":0.40},{"p":"c","x":0.280,"y":0.30},{"p":"c","x":0.290,"y":0.48},{"p":"c","x":0.300,"y":0.38},{"p":"c","x":0.310,"y":0.52},{"p":"c","x":0.320,"y":0.42},{"p":"c","x":0.330,"y":0.30},{"p":"c","x":0.340,"y":0.55},{"p":"c","x":0.120,"y":0.92},{"p":"c","x":0.160,"y":0.90},{"p":"c","x":0.180,"y":0.82},{"p":"c","x":0.050,"y":0.00},{"p":"c","x":0.100,"y":0.00},{"p":"c","x":0.240,"y":0.10},{"p":"c","x":0.300,"y":0.20},
      {"p":"c","x":0.006,"y":0.40},{"p":"c","x":0.012,"y":0.50},{"p":"c","x":0.016,"y":0.30},{"p":"c","x":0.020,"y":0.62},{"p":"c","x":0.024,"y":0.15},{"p":"c","x":0.028,"y":0.72},{"p":"c","x":0.034,"y":0.42},{"p":"c","x":0.040,"y":0.58},{"p":"c","x":0.044,"y":0.30},{"p":"c","x":0.050,"y":0.68},{"p":"c","x":0.054,"y":0.45},{"p":"c","x":0.060,"y":0.20},{"p":"c","x":0.066,"y":0.55},{"p":"c","x":0.070,"y":0.32},{"p":"c","x":0.076,"y":0.70},{"p":"c","x":0.080,"y":0.48},{"p":"c","x":0.086,"y":0.15},{"p":"c","x":0.090,"y":0.62},{"p":"c","x":0.096,"y":0.38},{"p":"c","x":0.100,"y":0.78},{"p":"c","x":0.106,"y":0.55},{"p":"c","x":0.112,"y":0.25},{"p":"c","x":0.116,"y":0.68},{"p":"c","x":0.122,"y":0.42},{"p":"c","x":0.126,"y":0.55},{"p":"c","x":0.132,"y":0.22},{"p":"c","x":0.136,"y":0.62},{"p":"c","x":0.142,"y":0.48},{"p":"c","x":0.148,"y":0.30},{"p":"c","x":0.152,"y":0.65},{"p":"c","x":0.160,"y":0.38},{"p":"c","x":0.166,"y":0.55},{"p":"c","x":0.174,"y":0.38},{"p":"c","x":0.182,"y":0.62},{"p":"c","x":0.190,"y":0.42},{"p":"c","x":0.200,"y":0.55},{"p":"c","x":0.208,"y":0.30},{"p":"c","x":0.215,"y":0.48},{"p":"c","x":0.225,"y":0.38},{"p":"c","x":0.235,"y":0.55},{"p":"c","x":0.040,"y":0.80},{"p":"c","x":0.080,"y":0.82},{"p":"c","x":0.110,"y":0.82},{"p":"c","x":0.140,"y":0.78},{"p":"c","x":0.020,"y":0.05},{"p":"c","x":0.070,"y":0.08},{"p":"c","x":0.130,"y":0.08},{"p":"c","x":0.180,"y":0.05},

      {"p":"d","x":0.058,"y":3.73},{"p":"d","x":0.035,"y":2.38},
      {"p":"d","x":0.104,"y":2.32},{"p":"d","x":0.100,"y":2.20},{"p":"d","x":0.112,"y":2.25},{"p":"d","x":0.108,"y":2.10},{"p":"d","x":0.118,"y":2.05},{"p":"d","x":0.050,"y":1.85},{"p":"d","x":0.065,"y":1.82},{"p":"d","x":0.080,"y":1.80},{"p":"d","x":0.095,"y":1.75},{"p":"d","x":0.085,"y":1.65},{"p":"d","x":0.105,"y":1.60},{"p":"d","x":0.115,"y":1.70},{"p":"d","x":0.125,"y":1.55},{"p":"d","x":0.135,"y":1.65},{"p":"d","x":0.145,"y":1.62},{"p":"d","x":0.155,"y":1.60},{"p":"d","x":0.098,"y":1.50},{"p":"d","x":0.110,"y":1.40},{"p":"d","x":0.120,"y":1.35},{"p":"d","x":0.130,"y":1.45},{"p":"d","x":0.182,"y":1.50},{"p":"d","x":0.222,"y":1.64},{"p":"d","x":0.248,"y":1.64},{"p":"d","x":0.246,"y":1.80},{"p":"d","x":0.280,"y":1.40},{"p":"d","x":0.278,"y":1.42},{"p":"d","x":0.115,"y":1.90},{"p":"d","x":0.125,"y":1.80},
      {"p":"d","x":0.090,"y":1.85},{"p":"d","x":0.100,"y":1.70},{"p":"d","x":0.110,"y":1.78},{"p":"d","x":0.120,"y":1.62},{"p":"d","x":0.105,"y":1.50},{"p":"d","x":0.115,"y":1.55},{"p":"d","x":0.090,"y":1.55},{"p":"d","x":0.075,"y":1.72},{"p":"d","x":0.140,"y":1.55},{"p":"d","x":0.125,"y":1.65},{"p":"d","x":0.112,"y":1.95},{"p":"d","x":0.108,"y":2.28},{"p":"d","x":0.098,"y":2.35},{"p":"d","x":0.118,"y":2.15},
      {"p":"d","x":0.095,"y":1.62},{"p":"d","x":0.105,"y":1.80},{"p":"d","x":0.100,"y":1.45},{"p":"d","x":0.120,"y":1.72},{"p":"d","x":0.085,"y":1.75},{"p":"d","x":0.110,"y":1.62},
      {"p":"d","x":0.055,"y":0.97},{"p":"d","x":0.104,"y":0.97},{"p":"d","x":0.119,"y":1.13},{"p":"d","x":0.125,"y":1.05},{"p":"d","x":0.115,"y":1.25},{"p":"d","x":0.226,"y":0.965},{"p":"d","x":0.130,"y":0.95},
      {"p":"d","x":0.383,"y":0.72},{"p":"d","x":0.467,"y":0.72},{"p":"d","x":0.496,"y":0.72},{"p":"d","x":0.535,"y":0.72},{"p":"d","x":0.591,"y":0.72},{"p":"d","x":0.741,"y":0.72},{"p":"d","x":0.452,"y":0.57},{"p":"d","x":0.558,"y":0.42},{"p":"d","x":0.661,"y":0.235},{"p":"d","x":0.687,"y":0.23},{"p":"d","x":0.790,"y":0.17},{"p":"d","x":0.385,"y":0.03},{"p":"d","x":0.290,"y":0.10},{"p":"d","x":0.280,"y":0.72},{"p":"d","x":0.300,"y":0.72},{"p":"d","x":0.290,"y":0.65},{"p":"d","x":0.354,"y":0.31},{"p":"d","x":0.330,"y":0.37},{"p":"d","x":0.305,"y":0.40},{"p":"d","x":0.270,"y":0.35},{"p":"d","x":0.250,"y":0.55},{"p":"d","x":0.260,"y":0.65},{"p":"d","x":0.240,"y":0.72},{"p":"d","x":0.220,"y":0.10},{"p":"d","x":0.260,"y":0.05},
      {"p":"d","x":0.010,"y":0.55},{"p":"d","x":0.015,"y":0.35},{"p":"d","x":0.018,"y":0.70},{"p":"d","x":0.022,"y":0.45},{"p":"d","x":0.026,"y":0.20},{"p":"d","x":0.030,"y":0.62},{"p":"d","x":0.034,"y":0.80},{"p":"d","x":0.038,"y":0.40},{"p":"d","x":0.042,"y":0.55},{"p":"d","x":0.046,"y":0.12},{"p":"d","x":0.050,"y":0.68},{"p":"d","x":0.055,"y":0.30},{"p":"d","x":0.060,"y":0.50},{"p":"d","x":0.065,"y":0.75},{"p":"d","x":0.070,"y":0.22},{"p":"d","x":0.075,"y":0.42},{"p":"d","x":0.080,"y":0.60},{"p":"d","x":0.085,"y":0.08},{"p":"d","x":0.090,"y":0.35},{"p":"d","x":0.095,"y":0.72},{"p":"d","x":0.100,"y":0.52},{"p":"d","x":0.105,"y":0.18},{"p":"d","x":0.110,"y":0.65},{"p":"d","x":0.115,"y":0.40},{"p":"d","x":0.120,"y":0.28},{"p":"d","x":0.125,"y":0.58},{"p":"d","x":0.130,"y":0.78},{"p":"d","x":0.135,"y":0.45},{"p":"d","x":0.140,"y":0.15},{"p":"d","x":0.145,"y":0.62},{"p":"d","x":0.150,"y":0.35},{"p":"d","x":0.155,"y":0.50},{"p":"d","x":0.160,"y":0.70},{"p":"d","x":0.168,"y":0.25},{"p":"d","x":0.175,"y":0.45},{"p":"d","x":0.182,"y":0.60},{"p":"d","x":0.190,"y":0.35},{"p":"d","x":0.198,"y":0.50},{"p":"d","x":0.205,"y":0.28},{"p":"d","x":0.212,"y":0.42},{"p":"d","x":0.220,"y":0.62},{"p":"d","x":0.230,"y":0.35},{"p":"d","x":0.240,"y":0.48},{"p":"d","x":0.246,"y":0.30},{"p":"d","x":0.030,"y":0.05},{"p":"d","x":0.060,"y":0.05},{"p":"d","x":0.100,"y":0.04},{"p":"d","x":0.020,"y":0.85},{"p":"d","x":0.070,"y":0.88},{"p":"d","x":0.115,"y":0.85},
      {"p":"d","x":0.012,"y":0.40},{"p":"d","x":0.016,"y":0.62},{"p":"d","x":0.020,"y":0.25},{"p":"d","x":0.024,"y":0.75},{"p":"d","x":0.028,"y":0.48},{"p":"d","x":0.032,"y":0.32},{"p":"d","x":0.036,"y":0.68},{"p":"d","x":0.040,"y":0.18},{"p":"d","x":0.044,"y":0.80},{"p":"d","x":0.048,"y":0.42},{"p":"d","x":0.052,"y":0.58},{"p":"d","x":0.058,"y":0.15},{"p":"d","x":0.062,"y":0.70},{"p":"d","x":0.068,"y":0.38},{"p":"d","x":0.072,"y":0.55},{"p":"d","x":0.078,"y":0.28},{"p":"d","x":0.082,"y":0.78},{"p":"d","x":0.088,"y":0.48},{"p":"d","x":0.092,"y":0.62},{"p":"d","x":0.098,"y":0.25},{"p":"d","x":0.102,"y":0.40},{"p":"d","x":0.108,"y":0.75},{"p":"d","x":0.112,"y":0.55},{"p":"d","x":0.118,"y":0.12},{"p":"d","x":0.122,"y":0.48},{"p":"d","x":0.128,"y":0.35},{"p":"d","x":0.132,"y":0.62},{"p":"d","x":0.138,"y":0.25},{"p":"d","x":0.142,"y":0.75},{"p":"d","x":0.148,"y":0.45},{"p":"d","x":0.152,"y":0.58},{"p":"d","x":0.158,"y":0.30},{"p":"d","x":0.165,"y":0.55},{"p":"d","x":0.172,"y":0.40},{"p":"d","x":0.178,"y":0.70},{"p":"d","x":0.185,"y":0.25},{"p":"d","x":0.192,"y":0.55},{"p":"d","x":0.200,"y":0.40},{"p":"d","x":0.208,"y":0.62},{"p":"d","x":0.215,"y":0.30},{"p":"d","x":0.225,"y":0.50},{"p":"d","x":0.235,"y":0.40},{"p":"d","x":0.100,"y":0.85},{"p":"d","x":0.140,"y":0.85},{"p":"d","x":0.060,"y":0.92},{"p":"d","x":0.160,"y":0.10},{"p":"d","x":0.180,"y":0.10},{"p":"d","x":0.200,"y":0.15},
      {"p":"d","x":0.008,"y":0.45},{"p":"d","x":0.012,"y":0.65},{"p":"d","x":0.018,"y":0.52},{"p":"d","x":0.022,"y":0.32},{"p":"d","x":0.026,"y":0.62},{"p":"d","x":0.030,"y":0.42},{"p":"d","x":0.034,"y":0.55},{"p":"d","x":0.038,"y":0.28},{"p":"d","x":0.042,"y":0.68},{"p":"d","x":0.046,"y":0.48},{"p":"d","x":0.050,"y":0.35},{"p":"d","x":0.054,"y":0.62},{"p":"d","x":0.058,"y":0.45},{"p":"d","x":0.062,"y":0.28},{"p":"d","x":0.066,"y":0.58},{"p":"d","x":0.070,"y":0.42},{"p":"d","x":0.074,"y":0.68},{"p":"d","x":0.078,"y":0.50},{"p":"d","x":0.082,"y":0.35},{"p":"d","x":0.086,"y":0.62},{"p":"d","x":0.090,"y":0.45},{"p":"d","x":0.094,"y":0.20},{"p":"d","x":0.098,"y":0.58},{"p":"d","x":0.104,"y":0.45},{"p":"d","x":0.108,"y":0.30},{"p":"d","x":0.112,"y":0.68},{"p":"d","x":0.116,"y":0.52},{"p":"d","x":0.120,"y":0.38},{"p":"d","x":0.126,"y":0.65},{"p":"d","x":0.130,"y":0.48},{"p":"d","x":0.136,"y":0.30},{"p":"d","x":0.142,"y":0.55},{"p":"d","x":0.148,"y":0.40},{"p":"d","x":0.154,"y":0.65},{"p":"d","x":0.160,"y":0.45},{"p":"d","x":0.166,"y":0.35},{"p":"d","x":0.172,"y":0.55},{"p":"d","x":0.180,"y":0.48},{"p":"d","x":0.188,"y":0.40},{"p":"d","x":0.196,"y":0.60},{"p":"d","x":0.205,"y":0.45},{"p":"d","x":0.050,"y":0.20},{"p":"d","x":0.080,"y":0.15},{"p":"d","x":0.120,"y":0.20},{"p":"d","x":0.030,"y":0.75},{"p":"d","x":0.090,"y":0.78},{"p":"d","x":0.150,"y":0.72}
    ],
    "curve": [
      {"x":0.092,"y":4.0},{"x":0.098,"y":3.75},{"x":0.106,"y":3.5},{"x":0.116,"y":3.25},{"x":0.128,"y":3.0},{"x":0.143,"y":2.75},{"x":0.163,"y":2.5},{"x":0.190,"y":2.25},{"x":0.232,"y":2.0},{"x":0.272,"y":1.8},{"x":0.322,"y":1.6},{"x":0.392,"y":1.4},{"x":0.482,"y":1.2},{"x":0.585,"y":1.0},{"x":0.683,"y":0.8},{"x":0.778,"y":0.6},{"x":0.825,"y":0.5},{"x":0.860,"y":0.4},{"x":0.882,"y":0.3},{"x":0.893,"y":0.2},{"x":0.897,"y":0.1},{"x":0.898,"y":0.0}
    ],
    "box": [
      {"p":"a","x":0.355,"x2":1.005,"y":2.72,"y2":4.01},
      {"p":"b","x":0.363,"x2":1.005,"y":2.36,"y2":4.01},
      {"p":"c","x":0.355,"x2":1.005,"y":1.68,"y2":4.01},
      {"p":"d","x":0.13,"x2":1.005,"y":1.87,"y2":4.01}
    ],
    "notes": [
      {"p":"a","t":"Elevation","x":0.947,"y":3.31},
      {"p":"b","t":"Hs","x":0.947,"y":3.05},
      {"p":"c","t":"Distance","x":0.947,"y":3.15},
      {"p":"c","t":"Inland","x":0.947,"y":2.35},
      {"p":"d","t":"Boulder","x":1.0,"y":3.35},
      {"p":"d","t":"Characteristics","x":0.99,"y":2.70}
    ],
    "letters": [
      {"p":"a","t":"a","x":-0.12,"y":3.77},
      {"p":"b","t":"b","x":-0.12,"y":3.78},
      {"p":"c","t":"c","x":-0.12,"y":3.78},
      {"p":"d","t":"d","x":-0.12,"y":3.78}
    ]
  },
  "columns": 2,
  "spacing": {"row": 123, "column": 106},
  "bounds": "flush",
  "concat": [
    {
      "width": 338, "height": 232,
      "encoding": {
        "x": {"field": "x", "type": "quantitative", "scale": {"domain": [0, 1], "nice": false, "zero": false}, "axis": {"values": [0, 0.5, 1], "format": "~g", "title": "l(ρₛ/ρw-1)/Hₛ₁₀₀", "grid": true}},
        "y": {"field": "y", "type": "quantitative", "scale": {"domain": [-0.18, 4], "nice": false, "zero": false}, "axis": {"values": [0, 1, 2, 3, 4], "format": "d", "title": "z/Hₛ₁₀₀", "grid": true}}
      },
      "layer": [
        {"data": {"name": "pts"}, "transform": [{"filter": "datum.p === 'a'"}], "mark": {"type": "point", "shape": "M-1,0L1,0M0,-1L0,1M-0.7,-0.7L0.7,0.7M-0.7,0.7L0.7,-0.7", "size": 200, "filled": false, "stroke": "#000000", "strokeWidth": 1.7, "opacity": 1}},
        {"data": {"name": "curve"}, "mark": {"type": "line", "color": "#e2363e", "strokeWidth": 1.3, "interpolate": "monotone"}},
        {"data": {"name": "box"}, "transform": [{"filter": "datum.p === 'a'"}], "mark": {"type": "rect", "fill": "white", "stroke": null, "clip": true}, "encoding": {"x2": {"field": "x2"}, "y2": {"field": "y2"}}},
        {"data": {"name": "notes"}, "transform": [{"filter": "datum.p === 'a'"}], "mark": {"type": "text", "font": "Liberation Sans", "fontStyle": "italic", "fontSize": 32, "align": "right", "baseline": "alphabetic", "color": "#000000", "clip": true}, "encoding": {"text": {"field": "t"}}},
        {"data": {"name": "letters"}, "transform": [{"filter": "datum.p === 'a'"}], "mark": {"type": "text", "font": "Liberation Sans", "fontSize": 32, "align": "center", "baseline": "alphabetic", "color": "#000000"}, "encoding": {"text": {"field": "t"}}}
      ]
    },
    {
      "width": 326, "height": 232,
      "encoding": {
        "x": {"field": "x", "type": "quantitative", "scale": {"domain": [0, 0.9645], "nice": false, "zero": false}, "axis": {"values": [0, 0.5], "format": "~g", "title": "l(ρₛ/ρw-1)/Hₛ₁₀₀", "titleX": 169, "grid": true}},
        "y": {"field": "y", "type": "quantitative", "scale": {"domain": [-0.18, 4], "nice": false, "zero": false}, "axis": {"values": [0, 1, 2, 3, 4], "format": "d", "title": "z/Hₛ₁₀₀", "grid": true}}
      },
      "layer": [
        {"data": {"name": "pts"}, "transform": [{"filter": "datum.p === 'b'"}], "mark": {"type": "point", "shape": "M-1,0L1,0M0,-1L0,1M-0.7,-0.7L0.7,0.7M-0.7,0.7L0.7,-0.7", "size": 200, "filled": false, "stroke": "#000000", "strokeWidth": 1.7, "opacity": 1}},
        {"data": {"name": "curve"}, "mark": {"type": "line", "color": "#e2363e", "strokeWidth": 1.3, "interpolate": "monotone"}},
        {"data": {"name": "box"}, "transform": [{"filter": "datum.p === 'b'"}], "mark": {"type": "rect", "fill": "white", "stroke": null, "clip": true}, "encoding": {"x2": {"field": "x2"}, "y2": {"field": "y2"}}},
        {"data": {"name": "notes"}, "transform": [{"filter": "datum.p === 'b'"}], "mark": {"type": "text", "font": "Liberation Sans", "fontStyle": "italic", "fontSize": 35, "align": "right", "baseline": "alphabetic", "color": "#000000", "clip": true}, "encoding": {"text": {"field": "t"}}},
        {"data": {"name": "letters"}, "transform": [{"filter": "datum.p === 'b'"}], "mark": {"type": "text", "font": "Liberation Sans", "fontSize": 32, "align": "center", "baseline": "alphabetic", "color": "#000000"}, "encoding": {"text": {"field": "t"}}}
      ]
    },
    {
      "width": 338, "height": 232,
      "encoding": {
        "x": {"field": "x", "type": "quantitative", "scale": {"domain": [0, 1], "nice": false, "zero": false}, "axis": {"values": [0, 0.5, 1], "format": "~g", "title": "l(ρₛ/ρw-1)/Hₛ₁₀₀", "grid": true}},
        "y": {"field": "y", "type": "quantitative", "scale": {"domain": [-0.18, 4], "nice": false, "zero": false}, "axis": {"values": [0, 1, 2, 3, 4], "format": "d", "title": "z/Hₛ₁₀₀", "grid": true}}
      },
      "layer": [
        {"data": {"name": "pts"}, "transform": [{"filter": "datum.p === 'c'"}], "mark": {"type": "point", "shape": "M-1,0L1,0M0,-1L0,1M-0.7,-0.7L0.7,0.7M-0.7,0.7L0.7,-0.7", "size": 200, "filled": false, "stroke": "#000000", "strokeWidth": 1.7, "opacity": 1}},
        {"data": {"name": "curve"}, "mark": {"type": "line", "color": "#e2363e", "strokeWidth": 1.3, "interpolate": "monotone"}},
        {"data": {"name": "box"}, "transform": [{"filter": "datum.p === 'c'"}], "mark": {"type": "rect", "fill": "white", "stroke": null, "clip": true}, "encoding": {"x2": {"field": "x2"}, "y2": {"field": "y2"}}},
        {"data": {"name": "notes"}, "transform": [{"filter": "datum.p === 'c'"}], "mark": {"type": "text", "font": "Liberation Sans", "fontStyle": "italic", "fontSize": 36, "align": "right", "baseline": "alphabetic", "color": "#000000", "clip": true}, "encoding": {"text": {"field": "t"}}},
        {"data": {"name": "letters"}, "transform": [{"filter": "datum.p === 'c'"}], "mark": {"type": "text", "font": "Liberation Sans", "fontSize": 32, "align": "center", "baseline": "alphabetic", "color": "#000000"}, "encoding": {"text": {"field": "t"}}}
      ]
    },
    {
      "width": 326, "height": 232,
      "encoding": {
        "x": {"field": "x", "type": "quantitative", "scale": {"domain": [0, 0.9645], "nice": false, "zero": false}, "axis": {"values": [0, 0.5], "format": "~g", "title": "l(ρₛ/ρw-1)/Hₛ₁₀₀", "titleX": 169, "grid": true}},
        "y": {"field": "y", "type": "quantitative", "scale": {"domain": [-0.18, 4], "nice": false, "zero": false}, "axis": {"values": [0, 1, 2, 3, 4], "format": "d", "title": "z/Hₛ₁₀₀", "grid": true}}
      },
      "layer": [
        {"data": {"name": "pts"}, "transform": [{"filter": "datum.p === 'd'"}], "mark": {"type": "point", "shape": "M-1,0L1,0M0,-1L0,1M-0.7,-0.7L0.7,0.7M-0.7,0.7L0.7,-0.7", "size": 200, "filled": false, "stroke": "#000000", "strokeWidth": 1.7, "opacity": 1}},
        {"data": {"name": "curve"}, "mark": {"type": "line", "color": "#e2363e", "strokeWidth": 1.3, "interpolate": "monotone"}},
        {"data": {"name": "box"}, "transform": [{"filter": "datum.p === 'd'"}], "mark": {"type": "rect", "fill": "white", "stroke": null, "clip": true}, "encoding": {"x2": {"field": "x2"}, "y2": {"field": "y2"}}},
        {"data": {"name": "notes"}, "transform": [{"filter": "datum.p === 'd'"}], "mark": {"type": "text", "font": "Liberation Sans", "fontStyle": "italic", "fontSize": 36, "align": "right", "baseline": "alphabetic", "color": "#000000", "clip": true}, "encoding": {"text": {"field": "t"}}},
        {"data": {"name": "letters"}, "transform": [{"filter": "datum.p === 'd'"}], "mark": {"type": "text", "font": "Liberation Sans", "fontSize": 32, "align": "center", "baseline": "alphabetic", "color": "#000000"}, "encoding": {"text": {"field": "t"}}}
      ]
    }
  ]
}
